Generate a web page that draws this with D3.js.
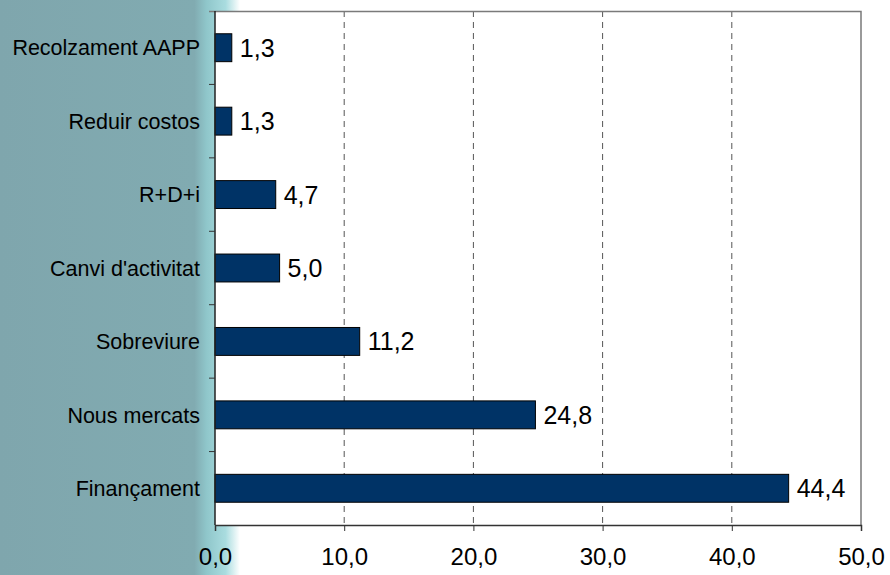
<!DOCTYPE html>
<html>
<head>
<meta charset="utf-8" />
<title>D3 - barres horitzontals</title>
<style>
body { margin: 0; background: #fff; }
svg { display: block; font-family: "Liberation Sans", Arial, sans-serif; }
</style>
</head>
<body>
<div id="graph"></div>
<script src="https://d3js.org/d3.v7.min.js"></script>
<script>
// dades (de dalt a baix)
var categories = ["Recolzament AAPP", "Reduir costos", "R+D+i", "Canvi d'activitat", "Sobreviure", "Nous mercats", "Finançament"];
var values = [1.3, 1.3, 4.7, 5.0, 11.2, 24.8, 44.4];
var xTicks = [0, 10, 20, 30, 40, 50];

var width = 890, height = 575;
var margin = {top: 11, right: 29, bottom: 50, left: 215};
var fmt = function(v) { return d3.format(".1f")(v).replace(".", ","); };

var svg = d3.select("#graph").append("svg")
    .attr("width", width)
    .attr("height", height);

// fons amb la franja de l'esquerra
var grad = svg.append("defs").append("linearGradient")
    .attr("id", "strip")
    .attr("x1", 0).attr("x2", 240).attr("y1", 0).attr("y2", 0)
    .attr("gradientUnits", "userSpaceOnUse");
grad.append("stop").attr("offset", 0).attr("stop-color", "#7fa6ad");
grad.append("stop").attr("offset", 0.81).attr("stop-color", "#81abb1");
grad.append("stop").attr("offset", 0.86).attr("stop-color", "#8fc6ca");
grad.append("stop").attr("offset", 0.94).attr("stop-color", "#a9dcdf");
grad.append("stop").attr("offset", 1).attr("stop-color", "#ffffff");

svg.append("rect")
    .attr("width", 240).attr("height", height)
    .attr("fill", "url(#strip)");

var w = width - margin.left - margin.right;
var h = 514;

var g = svg.append("g")
    .attr("transform", "translate(" + margin.left + "," + margin.top + ")");

var x = d3.scaleLinear().domain([0, 50]).range([0, w]);
var y = d3.scaleBand().domain(categories).range([0, h]).paddingInner(0.62).paddingOuter(0.31);
var yb = d3.scaleBand().domain(categories).range([0, h]);

// zona del gràfic
g.append("rect")
    .attr("width", w).attr("height", h)
    .attr("fill", "#fff");

// línies de graella
g.selectAll(".grid")
    .data(xTicks.slice(1, -1))
    .enter().append("line")
    .attr("x1", d => x(d)).attr("x2", d => x(d))
    .attr("y1", 0).attr("y2", h)
    .attr("stroke", "#555")
    .attr("stroke-width", 1)
    .attr("stroke-dasharray", "6,5");

// vora superior i dreta
g.append("path")
    .attr("d", "M-6,0.5H" + w + "V" + h)
    .attr("fill", "none")
    .attr("stroke", "#7a7a7a")
    .attr("stroke-width", 1.5);

// barres
g.selectAll(".bar")
    .data(values)
    .enter().append("rect")
    .attr("class", "bar")
    .attr("x", 0)
    .attr("y", (d, i) => y(categories[i]))
    .attr("width", d => x(d))
    .attr("height", y.bandwidth())
    .attr("fill", "#003366")
    .attr("stroke", "#000")
    .attr("stroke-width", 1);

// etiquetes de valor
g.selectAll(".val")
    .data(values)
    .enter().append("text")
    .attr("x", d => x(d) + 8)
    .attr("y", (d, i) => y(categories[i]) + y.bandwidth() / 2)
    .attr("dy", "0.36em")
    .attr("font-size", "25px")
    .attr("fill", "#000")
    .text(d => fmt(d));

// eix X
var xAxis = g.append("g")
    .attr("transform", "translate(0," + h + ")")
    .call(d3.axisBottom(x).tickValues(xTicks).tickFormat(fmt).tickSize(6).tickPadding(17));
xAxis.select(".domain").attr("stroke", "#333").attr("stroke-width", 1.5);
xAxis.selectAll(".tick line").attr("stroke", "#333");
xAxis.selectAll("text").attr("font-size", "24px").attr("font-family", "Liberation Sans, Arial, sans-serif").attr("fill", "#000");

// eix Y amb marques entre categories
var yAxis = g.append("g");
yAxis.append("line")
    .attr("x1", 0).attr("x2", 0).attr("y1", 0).attr("y2", h)
    .attr("stroke", "#222").attr("stroke-width", 1.5);
yAxis.selectAll(".ytick")
    .data(categories.slice(1))
    .enter().append("line")
    .attr("x1", -6).attr("x2", 0)
    .attr("y1", d => yb(d)).attr("y2", d => yb(d))
    .attr("stroke", "#333");
yAxis.selectAll(".ylab")
    .data(categories)
    .enter().append("text")
    .attr("x", -15)
    .attr("y", d => y(d) + y.bandwidth() / 2)
    .attr("dy", "0.36em")
    .attr("text-anchor", "end")
    .attr("font-size", "21.5px")
    .attr("fill", "#000")
    .text(d => d);
</script>
</body>
</html>
